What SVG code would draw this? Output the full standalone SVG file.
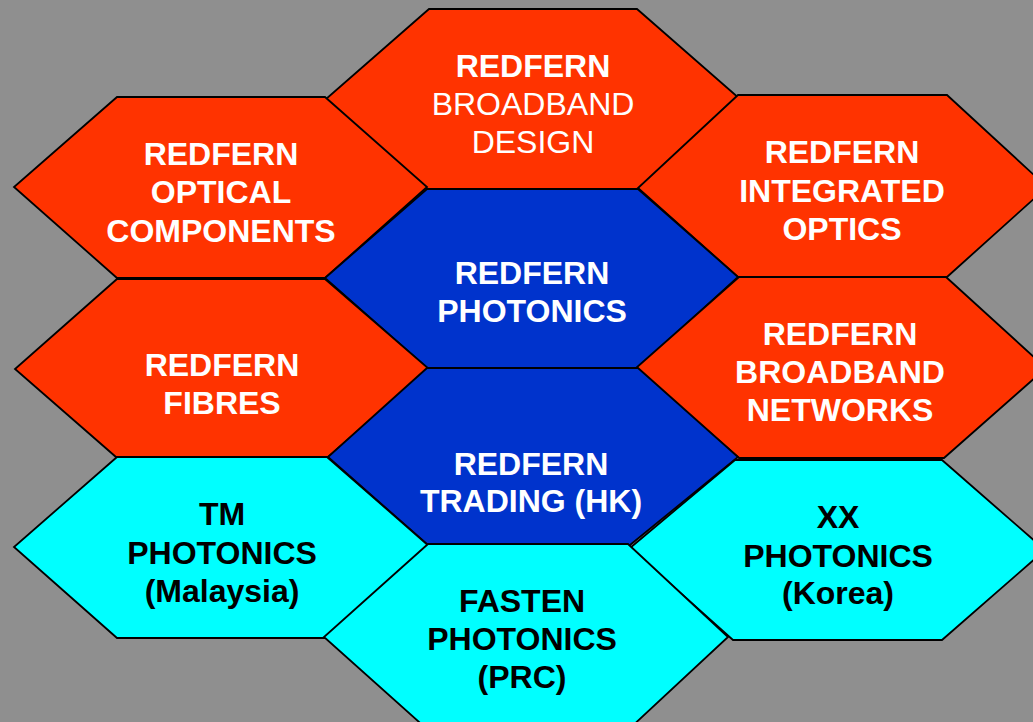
<svg xmlns="http://www.w3.org/2000/svg" width="1033" height="722" viewBox="0 0 1033 722">
<style>
.hex{stroke:#000;stroke-width:1.8;stroke-linejoin:miter}
.red{fill:#FF3300}
.blue{fill:#0033CC}
.cyan{fill:#00FFFF}
text{font-family:"Liberation Sans",Arial,sans-serif;font-size:32px;font-weight:bold;text-anchor:middle}
.w{fill:#fff}
.k{fill:#000}
.reg{font-weight:normal}
</style>
<rect width="1033" height="722" fill="#8F8F8F"/>
<g id="connectors"></g>
<g id="broadband-design">
<polygon class="hex red" points="429,9 637,9 740,99 638,189 427,189 326,99"/>
<text class="w" x="533" y="77">REDFERN</text>
<text class="w reg" x="533" y="115">BROADBAND</text>
<text class="w reg" x="533" y="153">DESIGN</text>
</g>
<g id="optical-components">
<polygon class="hex red" points="117,97 325,97 427,187 325,278 117,278 14,187"/>
<text class="w" x="221" y="165">REDFERN</text>
<text class="w" x="221" y="203">OPTICAL</text>
<text class="w" x="221" y="242">COMPONENTS</text>
</g>
<g id="integrated-optics">
<polygon class="hex red" points="738,95 947,95 1047,187 947,277 738,277 638,188"/>
<text class="w" x="842" y="163">REDFERN</text>
<text class="w" x="842" y="202">INTEGRATED</text>
<text class="w" x="842" y="240">OPTICS</text>
</g>
<g id="photonics">
<polygon class="hex blue" points="427,189 638,189 738,277 638,368 427,368 325,278"/>
<text class="w" x="532" y="284">REDFERN</text>
<text class="w" x="532" y="322">PHOTONICS</text>
</g>
<g id="fibres">
<polygon class="hex red" points="117,279 325,279 429,369 328,457 116,457 15,369"/>
<text class="w" x="222" y="376">REDFERN</text>
<text class="w" x="222" y="414">FIBRES</text>
</g>
<g id="broadband-networks">
<polygon class="hex red" points="739,277 946,277 1046,368 944,458 739,458 636,368"/>
<text class="w" x="840" y="345">REDFERN</text>
<text class="w" x="840" y="383">BROADBAND</text>
<text class="w" x="840" y="421">NETWORKS</text>
</g>
<g id="trading-hk">
<polygon class="hex blue" points="427,368 638,368 738,457 630,545 428,545 328,457"/>
<text class="w" x="531" y="475">REDFERN</text>
<text class="w" x="531" y="512">TRADING (HK)</text>
</g>
<g id="tm-photonics">
<polygon class="hex cyan" points="117,457 327,457 430,547 325,638 117,638 14,547"/>
<text class="k" x="222" y="525">TM</text>
<text class="k" x="222" y="564">PHOTONICS</text>
<text class="k" x="222" y="602">(Malaysia)</text>
</g>
<g id="xx-photonics">
<polygon class="hex cyan" points="735,460 942,460 1045,550 942,640 733,640 630,548"/>
<text class="k" x="838" y="528">XX</text>
<text class="k" x="838" y="567">PHOTONICS</text>
<text class="k" x="838" y="604">(Korea)</text>
</g>
<g id="fasten-photonics">
<polygon class="hex cyan" points="428,544 628,544 728,637 628,730 428,730 324,637"/>
<text class="k" x="522" y="612">FASTEN</text>
<text class="k" x="522" y="650">PHOTONICS</text>
<text class="k" x="522" y="688">(PRC)</text>
</g>
</svg>
